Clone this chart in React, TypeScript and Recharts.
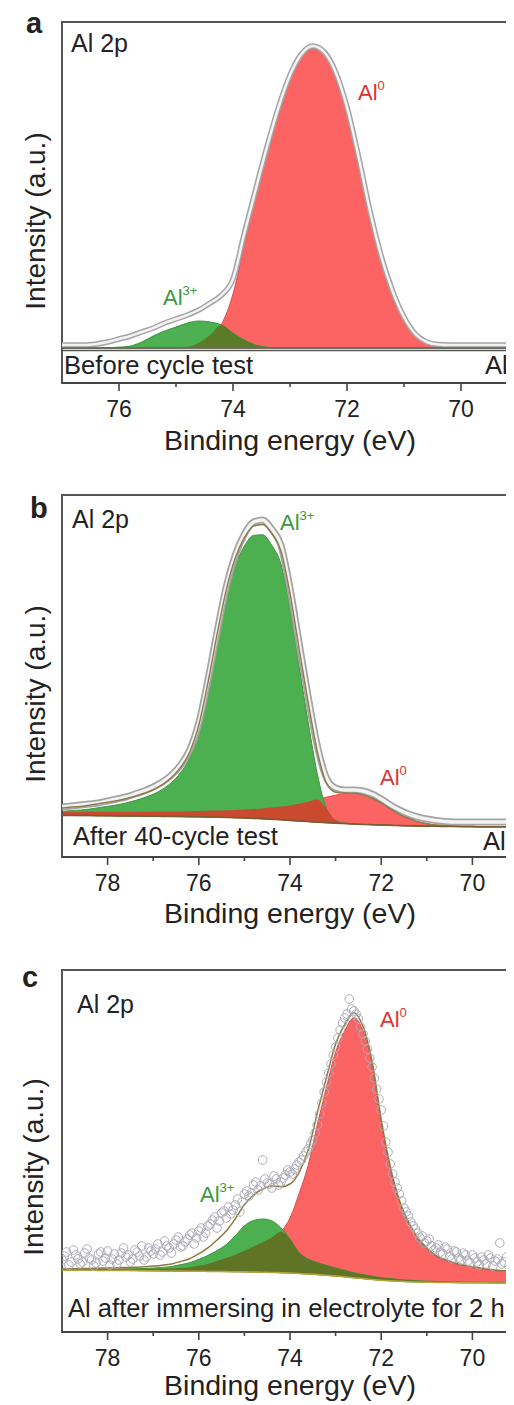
import React from 'react';
import { ComposedChart, Area, Line, Scatter, XAxis, YAxis, ReferenceArea, ReferenceLine } from 'recharts';

const FONT = '"Liberation Sans", Arial, Helvetica, sans-serif';

// ---------- Panel a: before cycle test (binding energy grid, eV) ----------
const A_ENERGY = [77.0, 76.8, 76.6, 76.4, 76.2, 76.0, 75.8, 75.6, 75.4, 75.2, 75.0, 74.8, 74.6, 74.4, 74.2, 74.0, 73.8, 73.6, 73.4, 73.2, 73.0, 72.8, 72.6, 72.4, 72.2, 72.0, 71.8, 71.6, 71.4, 71.2, 71.0, 70.8, 70.6, 70.4, 70.2, 70.0, 69.8, 69.6, 69.4, 69.2, 69.0];
const A_BASE = 35;
const A_AL0 = [0, 0, 0, 0, 0, 0, 0, 0, 0, 0, 0, 1, 5, 13, 24, 54, 104, 154, 199, 239, 271, 292, 300, 294, 274, 239, 190, 136, 90, 55, 29, 12, 4, 1, 0, 0, 0, 0, 0, 0, 0];
const A_AL3 = [0, 0, 0, 0, 0.3, 0.8, 2, 6, 12, 17, 21, 25, 27, 26, 23, 15, 8, 3, 0.8, 0, 0, 0, 0, 0, 0, 0, 0, 0, 0, 0, 0, 0, 0, 0, 0, 0, 0, 0, 0, 0, 0];
const A_MEASURED = [38, 38, 38, 39, 41, 44, 47, 51, 55, 60, 64, 68, 73, 80, 88, 104, 150, 194, 237, 276, 308, 329, 337, 331, 311, 276, 227, 173, 127, 92, 66, 49, 41, 38.5, 38, 38, 38, 38, 38, 38, 38];

// ---------- Panels b and c share the 79–69 eV grid ----------
const BC_ENERGY = [79.0, 78.8, 78.6, 78.4, 78.2, 78.0, 77.8, 77.6, 77.4, 77.2, 77.0, 76.8, 76.6, 76.4, 76.2, 76.0, 75.8, 75.6, 75.4, 75.2, 75.0, 74.8, 74.6, 74.4, 74.2, 74.0, 73.8, 73.6, 73.4, 73.2, 73.0, 72.8, 72.6, 72.4, 72.2, 72.0, 71.8, 71.6, 71.4, 71.2, 71.0, 70.8, 70.6, 70.4, 70.2, 70.0, 69.8, 69.6, 69.4, 69.2, 69.0];

// Panel b: after 40-cycle test
const B_BACKGROUND = [41.5, 41.5, 41.4, 41.4, 41.3, 41.2, 41.1, 41.0, 40.9, 40.8, 40.7, 40.6, 40.5, 40.4, 40.3, 40.2, 40.0, 39.8, 39.6, 39.3, 39.0, 38.6, 38.2, 37.8, 37.2, 36.6, 36.0, 35.4, 34.8, 34.3, 33.8, 33.4, 33.0, 32.6, 32.3, 32.0, 31.7, 31.4, 31.2, 31.0, 30.8, 30.7, 30.6, 30.5, 30.4, 30.4, 30.3, 30.3, 30.3, 30.3, 30.3];
const B_AL3 = [4, 5, 5.5, 6.5, 8, 9.5, 11, 13, 15.5, 18.5, 22, 27, 34, 44, 59, 86, 128, 176, 220, 252, 272, 283, 284, 274, 256, 212, 155, 99, 48, 14, 3, 0.5, 0, 0, 0, 0, 0, 0, 0, 0, 0, 0, 0, 0, 0, 0, 0, 0, 0, 0, 0];
const B_AL0 = [3.5, 3.6, 3.7, 3.8, 3.9, 4.0, 4.1, 4.2, 4.3, 4.4, 4.6, 4.8, 5.0, 5.2, 5.5, 5.8, 6.2, 6.6, 7.1, 7.7, 8.4, 9.3, 10.4, 11.7, 13.2, 15, 17.2, 19.8, 22.6, 25.5, 28, 30, 30.7, 29.5, 26.5, 22, 16.5, 11.3, 7.5, 4.4, 2.5, 1.3, 0.7, 0.3, 0, 0, 0, 0, 0, 0, 0];
const B_MEASURED = [50, 51, 52, 53, 54, 56, 58, 60, 63, 66, 70, 75, 82, 92, 107, 134, 177, 225, 270, 302, 323, 335, 337, 328, 312, 269, 214, 160, 111, 79, 69, 67, 67, 66, 63, 58, 52, 47, 43, 40, 38, 36.5, 35.5, 35, 35, 35, 35, 35, 35, 35, 35];

// Panel c: Al after immersing in electrolyte for 2 h
const C_BACKGROUND = [61.8, 61.8, 61.7, 61.7, 61.6, 61.6, 61.5, 61.5, 61.4, 61.3, 61.2, 61.1, 61.0, 60.9, 60.8, 60.7, 60.6, 60.5, 60.4, 60.3, 60.2, 60.0, 59.8, 59.6, 59.3, 59.0, 58.5, 58.0, 57.4, 56.7, 56.0, 55.2, 54.3, 53.4, 52.6, 51.8, 51.2, 50.7, 50.3, 50.0, 49.8, 49.6, 49.5, 49.4, 49.3, 49.2, 49.2, 49.1, 49.1, 49.0, 49.0];
const C_AL0 = [0.8, 0.9, 1.0, 1.1, 1.2, 1.3, 1.4, 1.5, 1.6, 1.7, 1.9, 2.2, 2.6, 3.1, 4.0, 5.5, 7.5, 10.5, 13.5, 17, 21, 25.5, 30, 35, 41, 55, 80, 109, 150, 188, 224, 246, 260, 248, 215, 158, 112, 79, 58, 43, 33, 26, 22, 19, 17, 15.5, 14, 13, 12, 11.5, 11];
const C_AL3 = [0.5, 0.6, 0.7, 0.8, 1.0, 1.1, 1.3, 1.5, 1.8, 2.2, 2.8, 3.5, 4.5, 6.5, 8.5, 12, 16, 21, 27, 36, 46, 51.5, 53.2, 51.5, 45, 34, 21, 15, 12, 10, 8, 6.5, 5, 4, 3.2, 2.6, 2.2, 1.8, 1.5, 1.3, 1.1, 1.0, 0.9, 0.8, 0.7, 0.6, 0.6, 0.5, 0.5, 0.4, 0.4];
// measured counts: [binding energy, intensity]
const C_MEASURED: [number, number][] = [
  [79.0, 72], [78.9, 80], [78.8, 70], [78.7, 77], [78.6, 68], [78.5, 79], [78.4, 74], [78.3, 66], [78.2, 78], [78.1, 71],
  [78.0, 81], [77.9, 73], [77.8, 68], [77.7, 79], [77.6, 75], [77.5, 70], [77.4, 82], [77.3, 76], [77.2, 72], [77.1, 84],
  [77.0, 78], [76.9, 88], [76.8, 80], [76.7, 86], [76.6, 79], [76.5, 92], [76.4, 85], [76.3, 90], [76.2, 97], [76.1, 88],
  [76.0, 101], [75.9, 95], [75.8, 106], [75.7, 112], [75.6, 104], [75.5, 119], [75.4, 114], [75.3, 118], [75.2, 127], [75.1, 120],
  [75.0, 138], [74.9, 136], [74.8, 147], [74.7, 142], [74.6, 172], [74.5, 149], [74.4, 144], [74.3, 153], [74.2, 150], [74.1, 157],
  [74.0, 160], [73.9, 163], [73.8, 170], [73.7, 176], [73.6, 183], [73.5, 192], [73.4, 207], [73.3, 229], [73.2, 250], [73.1, 268],
  [73.0, 285], [72.9, 302], [72.8, 314], [72.7, 333], [72.6, 321], [72.5, 313], [72.4, 298], [72.3, 283], [72.2, 265], [72.1, 243],
  [72.0, 222], [71.9, 190], [71.8, 168], [71.7, 150], [71.6, 138], [71.5, 124], [71.4, 116], [71.3, 106], [71.2, 99], [71.1, 96],
  [71.0, 91], [70.9, 86], [70.8, 84], [70.7, 80], [70.6, 85], [70.5, 76], [70.4, 81], [70.3, 74], [70.2, 79], [70.1, 71],
  [70.0, 77], [69.9, 70], [69.8, 75], [69.7, 68], [69.6, 74], [69.5, 71], [69.4, 89], [69.3, 70], [69.2, 66], [69.1, 73],
  [69.0, 69],
  [78.95, 76], [78.85, 67], [78.75, 82], [78.65, 73], [78.55, 70], [78.45, 83], [78.35, 72], [78.25, 69], [78.15, 80], [78.05, 74],
  [77.95, 67], [77.85, 78], [77.75, 72], [77.65, 84], [77.55, 77], [77.45, 73], [77.35, 80], [77.25, 86], [77.15, 75], [77.05, 81],
  [76.95, 83], [76.85, 77], [76.75, 91], [76.65, 84], [76.55, 88], [76.45, 95], [76.35, 86], [76.25, 93], [76.15, 99], [76.05, 94],
  [75.95, 104], [75.85, 99], [75.75, 108], [75.65, 115], [75.55, 111], [75.45, 121], [75.35, 125], [75.25, 122], [75.15, 133], [75.05, 130],
  [74.95, 141], [74.85, 139], [74.75, 150], [74.65, 146], [74.55, 153], [74.45, 148], [74.35, 156], [74.25, 147], [74.15, 154], [74.05, 162],
  [73.95, 158], [73.85, 167], [73.75, 172], [73.65, 180], [73.55, 188], [73.45, 199], [73.35, 218], [73.25, 240], [73.15, 259], [73.05, 277],
  [72.95, 294], [72.85, 309], [72.75, 318], [72.65, 323], [72.55, 318], [72.45, 305], [72.35, 291], [72.25, 274], [72.15, 254], [72.05, 233],
  [71.95, 206], [71.85, 180], [71.75, 158], [71.65, 144], [71.55, 131], [71.45, 120], [71.35, 110], [71.25, 103], [71.15, 94], [71.05, 89],
  [70.95, 93], [70.85, 82], [70.75, 87], [70.65, 78], [70.55, 83], [70.45, 73], [70.35, 80], [70.25, 72], [70.15, 77], [70.05, 69],
  [69.95, 74], [69.85, 67], [69.75, 72], [69.65, 77], [69.55, 66], [69.45, 73], [69.35, 68], [69.25, 75], [69.15, 67], [69.05, 72],
];

const A_TICKS = [70, 71, 72, 73, 74, 75, 76];
const BC_TICKS = [70, 71, 72, 73, 74, 75, 76, 77, 78];

const RED = '#fc6363';
const GREEN = '#4caf50';

type Row = {
  e: number;
  bg: number;
  al0: [number, number];
  al3: [number, number];
  both: [number, number];
  fit: number;
  meas?: number;
  measCore?: number;
};

// Each component sits on its own background; "both" is the region shared by the two peaks.
function buildRows(energy: number[], bg: number[], al0: number[], al3: number[], measured?: number[]): Row[] {
  return energy.map((e, i) => {
    const b = bg[i];
    return {
      e,
      bg: b,
      al0: [b, b + al0[i]],
      al3: [b, b + al3[i]],
      both: [b, b + Math.min(al0[i], al3[i])],
      fit: b + al0[i] + al3[i],
      meas: measured ? measured[i] : undefined,
      measCore: measured ? measured[i] : undefined,
    };
  });
}

const A_ROWS = buildRows(A_ENERGY, A_ENERGY.map(() => A_BASE), A_AL0, A_AL3, A_MEASURED);
const B_ROWS = buildRows(BC_ENERGY, B_BACKGROUND, B_AL0, B_AL3, B_MEASURED);
const C_ROWS = buildRows(BC_ENERGY, C_BACKGROUND, C_AL0, C_AL3);
const C_POINTS = C_MEASURED.map(([e, m]) => ({ e, m }));

const EnergyTick = (props: any) => {
  const { x, y, payload } = props;
  const v = payload.value as number;
  const major = v % 2 === 0;
  return (
    <g>
      <line x1={x} x2={x} y1={y} y2={y + (major ? 8 : 4)} stroke="#444" strokeWidth={1.6} />
      {major && (
        <text x={x} y={y + 34} textAnchor="middle" fontSize={23} fill="#222" fontFamily={FONT}>
          {v}
        </text>
      )}
    </g>
  );
};

const Circle = (props: any) => (
  <circle cx={props.cx} cy={props.cy} r={4.3} fill="none" stroke="#acacb9" strokeWidth={1} />
);

type PanelProps = {
  rows: Row[];
  domain: [number, number];
  ticks: number[];
  top: number;
  plotH: number;
  overlap: string;
  band?: [number, number];
  fitColor?: string;
  bgColor: string;
  points?: { e: number; m: number }[];
  separator?: number;
};

function Panel({ rows, domain, ticks, top, plotH, overlap, band, fitColor, bgColor, points, separator }: PanelProps) {
  const axisH = 70;
  const h = 14 + plotH + axisH;
  return (
    <div style={{ position: 'absolute', left: 0, top, width: 506, height: h, overflow: 'hidden' }}>
      <ComposedChart width={520} height={h} data={rows} margin={{ top: 14, right: 10, bottom: 0, left: 54 }}>
        <XAxis
          dataKey="e"
          type="number"
          domain={domain}
          reversed
          ticks={ticks}
          interval={0}
          tickSize={0}
          tickMargin={0}
          tickLine={false}
          tick={<EnergyTick />}
          axisLine={{ stroke: '#444', strokeWidth: 2 }}
          height={axisH}
          allowDataOverflow
        />
        <YAxis type="number" domain={[0, plotH]} hide allowDataOverflow />
        {points && <Scatter data={points} dataKey="m" shape={<Circle />} isAnimationActive={false} />}
        {band && (
          <Line dataKey="meas" type="monotone" stroke="#a4a4a4" strokeWidth={band[0]} dot={false} isAnimationActive={false} />
        )}
        {band && (
          <Line dataKey="measCore" type="monotone" stroke="#f3f3f3" strokeWidth={band[1]} dot={false} isAnimationActive={false} />
        )}
        <Area dataKey="al0" type="monotone" fill={RED} fillOpacity={1} stroke="#e04a4a" strokeWidth={1} isAnimationActive={false} />
        <Area dataKey="al3" type="monotone" fill={GREEN} fillOpacity={1} stroke="#3f9442" strokeWidth={1} isAnimationActive={false} />
        <Area dataKey="both" type="monotone" fill={overlap} fillOpacity={1} stroke="none" isAnimationActive={false} />
        {fitColor && (
          <Line dataKey="fit" type="monotone" stroke={fitColor} strokeWidth={1.5} dot={false} isAnimationActive={false} />
        )}
        <Line dataKey="bg" type="monotone" stroke={bgColor} strokeWidth={1.5} dot={false} isAnimationActive={false} />
        {separator !== undefined && <ReferenceLine y={separator} stroke="#555" strokeWidth={1.5} />}
        <ReferenceArea
          x1={domain[0]}
          x2={domain[1]}
          y1={0}
          y2={plotH}
          fill="none"
          stroke="#555"
          strokeWidth={2}
          ifOverflow="visible"
        />
      </ComposedChart>
    </div>
  );
}

const Ion = ({ x, y, color, sup }: { x: number; y: number; color: string; sup: string }) => (
  <text x={x} y={y} fill={color} fontSize={22} fontFamily={FONT}>
    Al
    <tspan dy={-10} fontSize={13}>
      {sup}
    </tspan>
  </text>
);

export default function App() {
  const txt = { fontFamily: FONT, fill: '#222' };
  return (
    <div style={{ position: 'relative', width: 506, height: 1397, background: '#fff' }}>
      <style>{'html,body{overflow:hidden}'}</style>
      <Panel rows={A_ROWS} domain={[69, 77]} ticks={A_TICKS} top={0} plotH={361} overlap="#5b7a2a" band={[5.5, 2.5]} bgColor="#666" separator={32.5} />
      <Panel rows={B_ROWS} domain={[69, 79]} ticks={BC_TICKS} top={473} plotH={362} overlap="#c94a2e" band={[7, 3.5]} fitColor="#8c7c4c" bgColor="#7a5a30" />
      <Panel rows={C_ROWS} domain={[69, 79]} ticks={BC_TICKS} top={948} plotH={362} overlap="#5f7424" fitColor="#8a7a3e" bgColor="#b3a63c" points={C_POINTS} />
      <svg width={506} height={1397} style={{ position: 'absolute', left: 0, top: 0, pointerEvents: 'none', overflow: 'visible' }}>
        {/* panel a */}
        <text x={18} y={25} fontSize={29} fontWeight="bold" {...txt}>a</text>
        <text x={63} y={44} fontSize={25} {...txt}>Al 2p</text>
        <Ion x={350} y={92} color="#e03232" sup="0" />
        <Ion x={155} y={297} color="#3a9a3a" sup="3+" />
        <text x={56} y={366} fontSize={25.6} {...txt}>Before cycle test</text>
        <text x={477} y={366} fontSize={25.6} {...txt}>Al</text>
        <text x={37} y={213} fontSize={28} textAnchor="middle" transform="rotate(-90 37 213)" {...txt}>Intensity (a.u.)</text>
        <text x={282} y={442} fontSize={28.5} textAnchor="middle" {...txt}>Binding energy (eV)</text>

        {/* panel b */}
        <text x={22} y={510} fontSize={29} fontWeight="bold" {...txt}>b</text>
        <text x={64} y={520} fontSize={25} {...txt}>Al 2p</text>
        <Ion x={272} y={522} color="#3a9a3a" sup="3+" />
        <Ion x={372} y={777} color="#e03232" sup="0" />
        <text x={65} y={837} fontSize={25.6} {...txt}>After 40-cycle test</text>
        <text x={475} y={842} fontSize={25.6} {...txt}>Al</text>
        <text x={37} y={686} fontSize={28} textAnchor="middle" transform="rotate(-90 37 686)" {...txt}>Intensity (a.u.)</text>
        <text x={282} y={915} fontSize={28.5} textAnchor="middle" {...txt}>Binding energy (eV)</text>

        {/* panel c */}
        <text x={14} y={979} fontSize={29} fontWeight="bold" {...txt}>c</text>
        <text x={69} y={1005} fontSize={25} {...txt}>Al 2p</text>
        <Ion x={372} y={1019} color="#e03232" sup="0" />
        <Ion x={192} y={1194} color="#3a9a3a" sup="3+" />
        <text x={60} y={1309} fontSize={25.6} {...txt}>Al after immersing in electrolyte for 2 h</text>
        <text x={35} y={1159} fontSize={28} textAnchor="middle" transform="rotate(-90 35 1159)" {...txt}>Intensity (a.u.)</text>
        <text x={282} y={1387} fontSize={28.5} textAnchor="middle" {...txt}>Binding energy (eV)</text>
      </svg>
    </div>
  );
}
